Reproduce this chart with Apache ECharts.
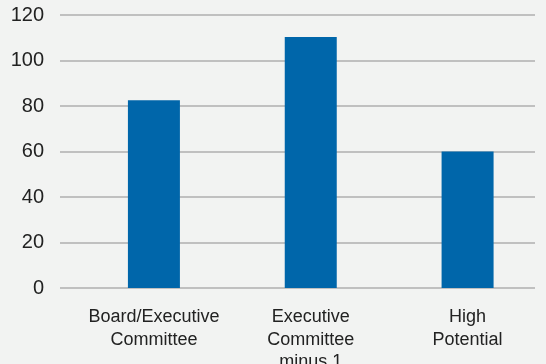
<!DOCTYPE html>
<html>
<head>
<meta charset="utf-8">
<script src="https://cdn.jsdelivr.net/npm/echarts@6/dist/echarts.min.js"></script>
<style>
html,body{margin:0;padding:0;background:#f2f3f2;}
#c{width:546px;height:364px;}
</style>
</head>
<body>
<div id="c"></div>
<script>
var categories = ['Board/Executive\nCommittee', 'Executive\nCommittee\nminus 1', 'High\nPotential'];
var values = [82.5, 110.3, 60];
var yTicks = {min: 0, max: 120, interval: 20};

var chart = echarts.init(document.getElementById('c'), null, {renderer: 'canvas'});
var font = '"Liberation Sans", Helvetica, Arial, sans-serif';
chart.setOption({
  backgroundColor: '#f2f3f2',
  animation: false,
  grid: [
    {left: 60, right: 11, top: 15, bottom: 76, outerBoundsMode: 'none', containLabel: false},
    {left: 75.5, right: 0, top: 15, bottom: 76, outerBoundsMode: 'none', containLabel: false}
  ],
  xAxis: [
    {gridIndex: 0, type: 'category', data: categories, show: false},
    {gridIndex: 1, type: 'category', data: categories,
     axisLine: {show: false}, axisTick: {show: false},
     axisLabel: {color: '#222', fontFamily: font, fontSize: 18, lineHeight: 22.5, margin: 18, interval: 0}}
  ],
  yAxis: [
    {gridIndex: 0, type: 'value', min: yTicks.min, max: yTicks.max, interval: yTicks.interval,
     axisLine: {show: false}, axisTick: {show: false},
     axisLabel: {color: '#222', fontFamily: font, fontSize: 20, margin: 16},
     splitLine: {lineStyle: {color: '#afafaf', width: 1.5}}},
    {gridIndex: 1, type: 'value', min: yTicks.min, max: yTicks.max, interval: yTicks.interval, show: false}
  ],
  series: [{
    type: 'bar', xAxisIndex: 1, yAxisIndex: 1, data: values, barWidth: 52,
    itemStyle: {color: '#0066aa'}
  }]
});
</script>
</body>
</html>
